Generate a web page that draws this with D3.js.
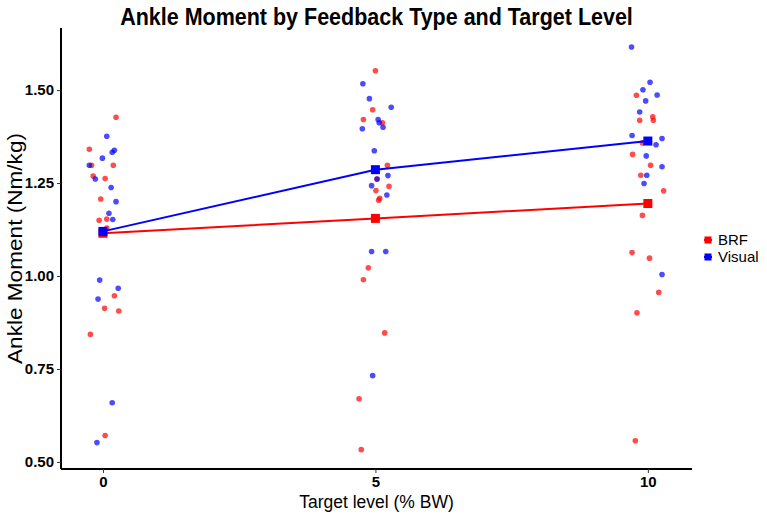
<!DOCTYPE html>
<html>
<head>
<meta charset="utf-8">
<script src="https://cdn.jsdelivr.net/npm/d3@7"></script>
<style>
  body { margin: 0; background: #fff; }
  svg { font-family: "Liberation Sans", Arial, Helvetica, sans-serif; }
</style>
</head>
<body>
<div id="chart"></div>
<script>
// Ankle moment by feedback type and target level.
// Jittered subject points plus group means joined by lines.
const levels = [0, 5, 10];
const groups = ['BRF', 'Visual'];
const groupColors = ['#ff0000', '#0000ff'];
const yTicks = [0.50, 0.75, 1.00, 1.25, 1.50];

// Group means read from the squares
const brfMeans = [1.115, 1.155, 1.195];
const visualMeans = [1.120, 1.286, 1.363];

// Subject points: [jittered target level, ankle moment]
const brfPoints = [
  [0.24, 1.427], [-0.25, 1.341], [-0.21, 1.298], [0.19, 1.298], [-0.18, 1.269],
  [0.04, 1.262], [-0.04, 1.207], [-0.07, 1.150], [0.07, 1.153], [0.07, 1.129],
  [0.21, 0.947], [0.03, 0.913], [0.29, 0.906], [-0.23, 0.843], [0.04, 0.571],
  [5.00, 1.552], [4.95, 1.447], [4.78, 1.421], [5.13, 1.412], [5.22, 1.298],
  [5.03, 1.261], [5.25, 1.241], [5.01, 1.230], [5.08, 1.209], [5.06, 1.204],
  [4.87, 1.022], [4.78, 0.990], [5.17, 0.847], [4.70, 0.670], [4.74, 0.533],
  [9.79, 1.486], [10.09, 1.428], [9.85, 1.419], [10.10, 1.419], [9.90, 1.358],
  [9.72, 1.327], [10.05, 1.298], [9.87, 1.271], [10.29, 1.229], [9.90, 1.163],
  [9.71, 1.063], [10.03, 1.048], [10.20, 0.956], [9.80, 0.901], [9.77, 0.557]
];
const visualPoints = [
  [0.07, 1.376], [0.21, 1.338], [0.17, 1.333], [-0.01, 1.317], [-0.25, 1.298],
  [-0.14, 1.261], [0.15, 1.238], [0.24, 1.200], [0.11, 1.169], [0.18, 1.152],
  [-0.06, 0.989], [0.28, 0.967], [-0.09, 0.938], [0.17, 0.659], [-0.11, 0.552],
  [4.77, 1.517], [4.89, 1.477], [5.29, 1.454], [5.05, 1.421], [5.07, 1.412],
  [4.76, 1.396], [5.14, 1.400], [4.98, 1.337], [5.03, 1.261], [5.23, 1.270],
  [4.93, 1.243], [5.21, 1.218], [4.93, 1.066], [5.19, 1.066], [4.95, 0.732],
  [9.70, 1.616], [10.04, 1.521], [9.91, 1.501], [10.17, 1.487], [9.96, 1.471],
  [9.85, 1.441], [9.71, 1.378], [10.26, 1.370], [10.15, 1.353], [9.97, 1.323],
  [10.26, 1.294], [9.98, 1.271], [9.93, 1.249], [10.26, 1.004], [10.00, 1.363]
];

const width = 767, height = 514;
const m = { top: 28, right: 75, bottom: 45, left: 61 };

const svg = d3.select('#chart').append('svg')
  .attr('width', width).attr('height', height);

const x = d3.scaleLinear().domain([-0.77, 10.81]).range([m.left, width - m.right]);
const y = d3.scaleLinear().domain([0.481, 1.667]).range([height - m.bottom, m.top]);

// Points first, then lines and mean squares on top
const series = [
  { name: groups[0], color: groupColors[0], points: brfPoints, means: brfMeans },
  { name: groups[1], color: groupColors[1], points: visualPoints, means: visualMeans }
];

series.forEach(s => {
  svg.append('g').selectAll('circle')
    .data(s.points)
    .enter().append('circle')
    .attr('cx', d => x(d[0]))
    .attr('cy', d => y(d[1]))
    .attr('r', 2.8)
    .attr('fill', s.color)
    .attr('fill-opacity', 0.7);
});

series.forEach(s => {
  const line = d3.line().x((d, i) => x(levels[i])).y(d => y(d));
  svg.append('path')
    .attr('d', line(s.means))
    .attr('fill', 'none')
    .attr('stroke', s.color)
    .attr('stroke-width', 2);
  svg.append('g').selectAll('rect')
    .data(s.means)
    .enter().append('rect')
    .attr('x', (d, i) => x(levels[i]) - 4.5)
    .attr('y', d => y(d) - 4.5)
    .attr('width', 9).attr('height', 9)
    .attr('fill', s.color);
});

// Axes
const yAxis = svg.append('g')
  .attr('transform', `translate(${m.left},0)`)
  .call(d3.axisLeft(y).tickValues(yTicks).tickFormat(d3.format('.2f')).tickSize(4).tickPadding(3));
const xAxis = svg.append('g')
  .attr('transform', `translate(0,${height - m.bottom})`)
  .call(d3.axisBottom(x).tickValues(levels).tickSize(4).tickPadding(3));

[yAxis, xAxis].forEach(a => {
  a.select('.domain').attr('stroke', '#000').attr('stroke-width', 2);
  a.selectAll('.tick line').attr('stroke', '#333').attr('stroke-width', 1);
  a.selectAll('.tick text')
    .attr('fill', '#000')
    .style('font-size', '15px')
    .style('font-weight', 'bold')
    .style('font-family', '"Liberation Sans", Arial, sans-serif');
});
// ggplot-style axis lines without end caps
yAxis.select('.domain').attr('d', `M0,${m.top}V${height - m.bottom}`);
xAxis.select('.domain').attr('d', `M${m.left},0H${width - m.right}`);

// Titles (the source image is slightly stretched vertically)
svg.append('text')
  .attr('transform', `translate(${(m.left + width - m.right) / 2},25) scale(1,1.15)`)
  .attr('text-anchor', 'middle')
  .style('font-size', '21.5px').style('font-weight', 'bold')
  .text('Ankle Moment by Feedback Type and Target Level');

svg.append('text')
  .attr('x', (m.left + width - m.right) / 2).attr('y', 508)
  .attr('text-anchor', 'middle')
  .style('font-size', '17.5px')
  .text('Target level (% BW)');

svg.append('text')
  .attr('transform', `translate(22,${(m.top + height - m.bottom) / 2}) rotate(-90) scale(1.13,1)`)
  .attr('text-anchor', 'middle')
  .style('font-size', '20px')
  .text('Ankle Moment (Nm/kg)');

// Legend
const legend = svg.append('g').attr('transform', 'translate(708,240)');
series.forEach((s, i) => {
  const g = legend.append('g').attr('transform', `translate(0,${i * 17})`);
  g.append('line').attr('x1', -4).attr('x2', 4)
    .attr('stroke', s.color).attr('stroke-width', 2);
  g.append('rect').attr('x', -3.5).attr('y', -3.5).attr('width', 7).attr('height', 7)
    .attr('fill', s.color);
  g.append('text').attr('x', 10).attr('dy', '0.35em')
    .style('font-size', '15px').text(s.name);
});
</script>
</body>
</html>
